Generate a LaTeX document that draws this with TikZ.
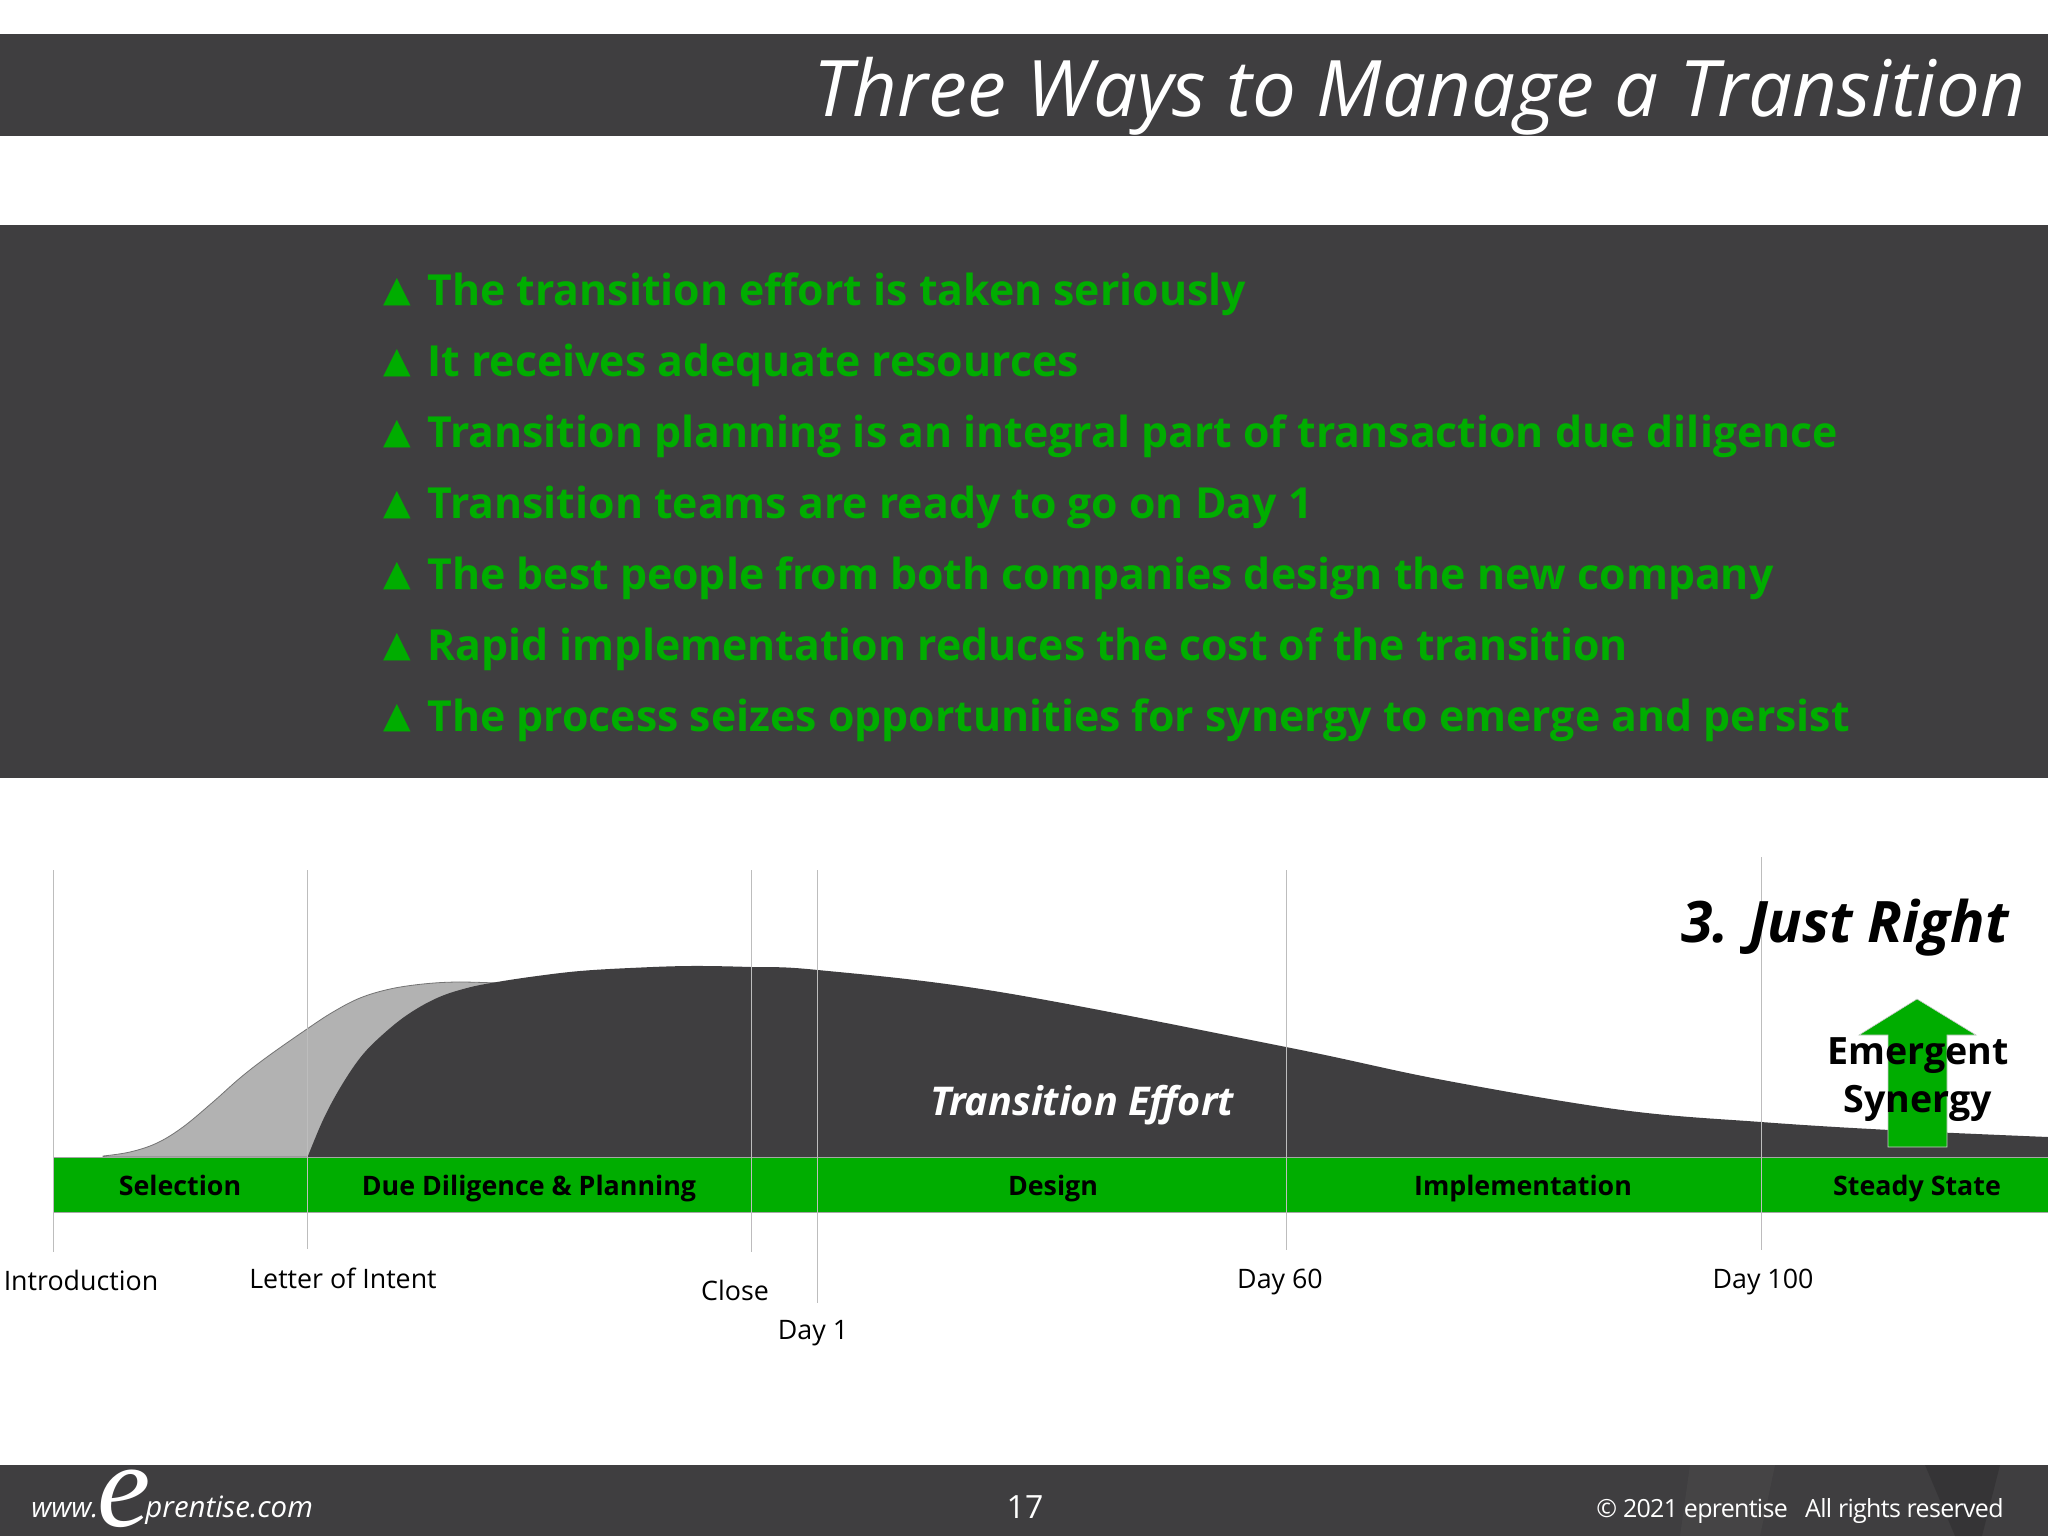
\documentclass[tikz,border=0pt]{standalone}
\usepackage{fontspec}
\setmainfont{Open Sans}
\newfontfamily\symfont{DejaVu Sans}
\newfontfamily\logofont{Liberation Serif}
\newfontfamily\copyfont[LetterSpace=-2.8]{Open Sans}
\definecolor{slate}{HTML}{3F3E40}
\definecolor{leaf}{HTML}{00AD00}
\definecolor{tick}{HTML}{BDBDBD}
\tikzset{
    labeltext/.style={anchor=base,inner sep=0pt,font=\fontsize{13.4}{16}\selectfont},
    bandtext/.style={anchor=base,inner sep=0pt,font=\fontsize{13.4}{16}\selectfont\bfseries},
    pointtext/.style={anchor=base west,inner sep=0pt,text=leaf,font=\fontsize{21.4}{26}\selectfont\bfseries},
    pointmark/.style={anchor=base west,inner sep=0pt,text=leaf,font=\fontsize{18}{22}\selectfont\symfont},
    foottext/.style={anchor=base west,inner sep=0pt,text=white}
}

\begin{document}
\begin{tikzpicture}[x=0.5pt,y=-0.5pt]
            \useasboundingbox (0,0) rectangle (2048,1536);
            \fill[white] (0,0) rectangle (2048,1536);
            % dark bars
            \fill[slate] (0,34) rectangle (2048,136);
            \fill[slate] (0,225) rectangle (2048,778);
            \fill[slate] (0,1465) rectangle (2048,1536);
            \fill[black,opacity=0.15] (1925,1465) -- (2000,1465) -- (1982,1536) -- (1955,1536) -- cycle;
            \fill[white,opacity=0.03] (1690,1465) -- (1775,1465) -- (1760,1536) -- (1680,1536) -- cycle;
            \node[anchor=base east,inner sep=0pt,text=white,font=\fontsize{39}{48}\selectfont\itshape] (title) at (2026,117) {Three Ways to Manage a Transition};
            % bullets
            \foreach \i/\txt in {0/The transition effort is taken seriously,
                                 1/It receives adequate resources,
                                 2/Transition planning is an integral part of transaction due diligence,
                                 3/Transition teams are ready to go on Day 1,
                                 4/The best people from both companies design the new company,
                                 5/Rapid implementation reduces the cost of the transition,
                                 6/The process seizes opportunities for synergy to emerge and persist} {
                \node[pointmark] (mark\i) at (383,301.5+71*\i) {▲};
                \node[pointtext] (point\i) at (427,305+71*\i) {\txt};
            }
            % effort curves
            \fill[black!30,draw=black!55,line width=0.4pt] plot[smooth,tension=0.6] coordinates {(103,1156) (130,1152) (157,1143) (183,1127) (213,1102) (240,1078) (267,1057) (307,1029) (333,1012) (360,998) (390,989) (423,984) (457,982) (497,983)} -- (497,1157) -- (103,1157) -- cycle;
            \fill[slate] plot[smooth,tension=0.6] coordinates {(308,1156) (323,1120) (340,1088) (360,1058) (380,1037) (407,1015) (437,998) (467,988) (497,982) (537,976) (580,971) (630,968) (689,966) (751,967) (818,970) (1000,992) (1286,1047) (1443,1080) (1622,1110) (1761,1122) (1890,1130) (2048,1137)} -- (2048,1157) -- (308,1157) -- cycle;
            \fill[leaf,draw=black!35,line width=0.3pt] (53.5,1157) rectangle (2060,1212);
            \fill[leaf,draw=black!20,line width=0.3pt] (1888,1147) -- (1888,1035) -- (1859,1035) -- (1917,999) -- (1976,1035) -- (1947,1035) -- (1947,1147) -- cycle;
            % ticks
            \foreach \x/\top/\bot in {53.5/870/1252,307/870/1249,751/870/1252,817.5/870/1303,1286/870/1250,1761/857/1250} {
                \draw[tick,line width=0.5pt] (\x,\top) -- (\x,\bot);
            }
            % band labels
            \node[bandtext] (selection) at (180,1195) {Selection};
            \node[bandtext] (planning) at (529,1195) {Due Diligence \& Planning};
            \node[bandtext] (design) at (1053,1195) {Design};
            \node[bandtext] (implement) at (1523,1195) {Implementation};
            \node[bandtext] (steady) at (1917,1195) {Steady State};
            % milestones
            \node[labeltext] (intro) at (81,1290) {Introduction};
            \node[labeltext] (intent) at (343,1288) {Letter of Intent};
            \node[labeltext] (close) at (735,1300) {Close};
            \node[labeltext] (dayone) at (813,1339) {Day 1};
            \node[labeltext] (daysixty) at (1280,1288) {Day 60};
            \node[labeltext] (dayhundred) at (1763,1288) {Day 100};
            % chart titles
            \node[anchor=base,inner sep=0pt,font=\fontsize{28.6}{34}\selectfont\bfseries\itshape] (right) at (1845,942) {3. Just Right};
            \node[anchor=base,inner sep=0pt,text=white,font=\fontsize{19.8}{24}\selectfont\bfseries\itshape] (effort) at (1082,1115) {Transition Effort};
            \node[anchor=base,inner sep=0pt,font=\fontsize{18.8}{24}\selectfont\bfseries] (emergent) at (1918,1064) {Emergent};
            \node[anchor=base,inner sep=0pt,font=\fontsize{18.8}{24}\selectfont\bfseries] (synergy) at (1918,1112) {Synergy};
            % footer
            \node[foottext,font=\fontsize{14}{16}\selectfont\itshape] (www) at (31,1517) {www.};
            \node[foottext,font=\fontsize{60}{60}\selectfont\logofont\itshape] (bige) at (97,1526) {e};
            \node[foottext,font=\fontsize{14.7}{16}\selectfont\itshape] (site) at (145,1517) {prentise.com};
            \node[anchor=base,inner sep=0pt,text=white,font=\fontsize{16}{18}\selectfont] (page) at (1025,1518) {17};
            \node[foottext,font=\fontsize{12.5}{16}\selectfont\copyfont] (copy) at (1596,1517) {© 2021 eprentise\ \ \ All rights reserved};
        \end{tikzpicture}
\end{document}
